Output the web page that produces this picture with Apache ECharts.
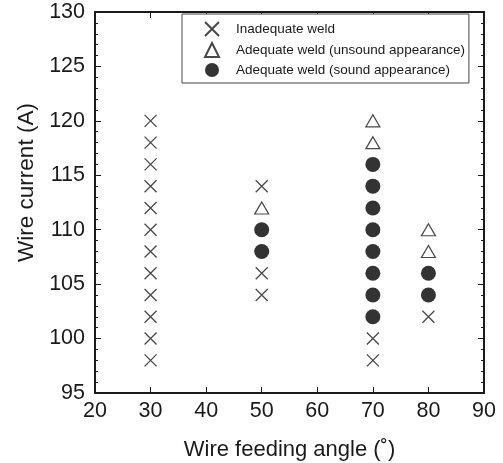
<!DOCTYPE html>
<html>
<head>
<meta charset="utf-8">
<script src="https://cdn.jsdelivr.net/npm/echarts@6/dist/echarts.min.js"></script>
<style>
  html, body { margin: 0; padding: 0; background: #fff; }
  #chart { width: 503px; height: 463px; }
</style>
</head>
<body>
<div id="chart"></div>
<script>
// weld outcome by wire feeding angle (deg) and wire current (A)
const legendNames = ['Inadequate weld', 'Adequate weld (unsound appearance)', 'Adequate weld (sound appearance)'];
const inadequate = [
  [30, 98], [30, 100], [30, 102], [30, 104], [30, 106], [30, 108],
  [30, 110], [30, 112], [30, 114], [30, 116], [30, 118], [30, 120],
  [50, 104], [50, 106], [50, 114],
  [70, 98], [70, 100],
  [80, 102]
];
const unsound = [
  [50, 112],
  [70, 118], [70, 120],
  [80, 108], [80, 110]
];
const sound = [
  [50, 108], [50, 110],
  [70, 102], [70, 104], [70, 106], [70, 108], [70, 110], [70, 112], [70, 114], [70, 116],
  [80, 104], [80, 106]
];

const ink = '#1a1a1a';
const font = '"Liberation Sans", Arial, sans-serif';
const cross = 'path://M0,0L10,10M0,10L10,0';

let myChart = echarts.init(document.getElementById('chart'));
let option = {
  animation: false,
  textStyle: { fontFamily: font },
  grid: { left: 95, right: 19, top: 12, bottom: 70, containLabel: false, outerBoundsMode: 'none' },
  legend: {
    orient: 'vertical',
    left: 182,
    top: 14,
    padding: [7, 4, 6, 22],
    itemWidth: 14,
    itemHeight: 14,
    itemGap: 5,
    backgroundColor: '#fff',
    borderColor: '#444',
    borderWidth: 1,
    textStyle: { fontSize: 13.5, color: ink, fontFamily: font, padding: [0, 0, 0, 12] },
    data: legendNames
  },
  xAxis: [{
    type: 'value',
    min: 20, max: 90, interval: 10,
    name: 'Wire feeding angle (˚)',
    nameLocation: 'middle',
    nameGap: 46,
    nameTextStyle: { fontSize: 22, color: ink },
    axisLine: { lineStyle: { color: ink, width: 2 } },
    axisTick: { inside: true, length: 6, lineStyle: { color: ink, width: 1 } },
    axisLabel: { fontSize: 21.5, color: ink, margin: 7 },
    splitLine: { show: false }
  }, {
    type: 'value',
    position: 'top',
    min: 20, max: 90, interval: 10,
    axisLine: { show: true, lineStyle: { color: ink, width: 2 } },
    axisTick: { inside: true, length: 6, lineStyle: { color: ink, width: 1 } },
    axisLabel: { show: false },
    splitLine: { show: false }
  }],
  yAxis: [{
    type: 'value',
    min: 95, max: 130, interval: 5,
    name: 'Wire current (A)',
    nameLocation: 'middle',
    nameGap: 55,
    nameTextStyle: { fontSize: 22.5, color: ink, padding: [0, 0, 0, 40] },
    axisLine: { show: true, lineStyle: { color: ink, width: 2 } },
    axisTick: { inside: true, length: 6, lineStyle: { color: ink, width: 1 } },
    minorTick: { show: true, splitNumber: 5, length: 3, lineStyle: { color: ink, width: 1 } },
    axisLabel: { fontSize: 21.5, color: ink, margin: 10 },
    splitLine: { show: false }
  }, {
    type: 'value',
    position: 'right',
    min: 95, max: 130, interval: 5,
    axisLine: { show: true, lineStyle: { color: ink, width: 2 } },
    axisTick: { inside: true, length: 6, lineStyle: { color: ink, width: 1 } },
    minorTick: { show: true, splitNumber: 5, length: 3, lineStyle: { color: ink, width: 1 } },
    axisLabel: { show: false },
    splitLine: { show: false }
  }],
  series: [{
    name: legendNames[0],
    type: 'scatter',
    symbol: cross,
    symbolSize: 12,
    itemStyle: { color: 'transparent', borderColor: ink, borderWidth: 1.3 },
    data: inadequate
  }, {
    name: legendNames[1],
    type: 'scatter',
    symbol: 'triangle',
    symbolSize: [14, 12],
    itemStyle: { color: '#fff', borderColor: ink, borderWidth: 1.2 },
    data: unsound
  }, {
    name: legendNames[2],
    type: 'scatter',
    symbol: 'circle',
    symbolSize: 15,
    itemStyle: { color: '#000' },
    data: sound
  }]
};
myChart.setOption(option, true);
</script>
</body>
</html>
